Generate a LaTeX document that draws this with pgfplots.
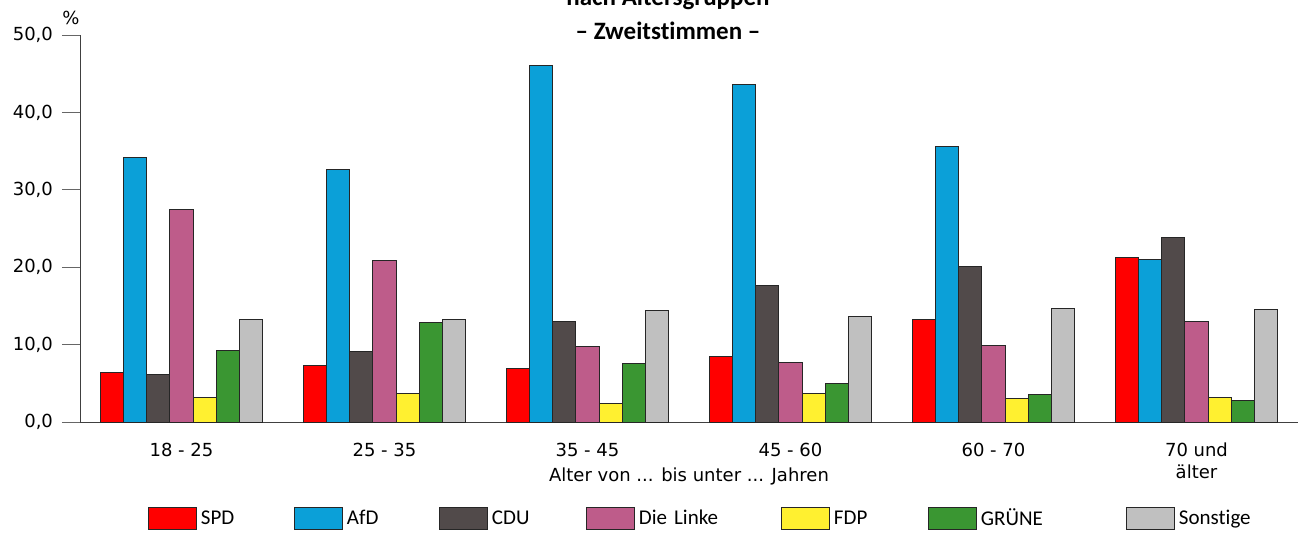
\documentclass[border=0pt]{standalone}
\usepackage{fontspec}
\setmainfont{DejaVu Sans}
\newfontfamily\calfont[Ligatures=NoCommon]{Carlito}
\usepackage{pgfplots}
\usepackage{pgfplotstable}
\pgfplotsset{compat=1.18}
\definecolor{cspd}{HTML}{FF0000}
\definecolor{cafd}{HTML}{0BA0D8}
\definecolor{ccdu}{HTML}{514A4A}
\definecolor{clinke}{HTML}{BE5C8A}
\definecolor{cfdp}{HTML}{FFF030}
\definecolor{cgruene}{HTML}{3A9632}
\definecolor{csonst}{HTML}{C0C0C0}
\newcommand{\ticklab}{\fontsize{9}{11}\selectfont}
\newcommand{\leglab}{\calfont\fontsize{10.5}{12}\selectfont}
\newcommand{\titlab}{\calfont\bfseries\fontsize{12.5}{14}\selectfont}

\pgfplotstableread{
x spd afd cdu linke fdp gruene sonst
0 6.4 34.2 6.1 27.4 3.2 9.2 13.3
1 7.3 32.6 9.1 20.9 3.7 12.9 13.2
2 6.9 46.0 13.0 9.7 2.4 7.5 14.4
3 8.5 43.6 17.7 7.7 3.7 5.0 13.6
4 13.2 35.6 20.1 9.9 3.0 3.5 14.7
5 21.3 21.0 23.9 13.0 3.2 2.8 14.5
}\datatable

\pgfplotsset{
  bx/.style={fill=#1, draw=black!85, line width=0.5pt,
    legend image code/.code={\draw[fill=#1, draw=black!85, line width=0.5pt] (0pt,-5.5pt) rectangle (24pt,5.5pt);}},
}

\begin{document}
\begin{tikzpicture}
\begin{axis}[
  at={(0,0)}, anchor=south west,
  scale only axis, width=609pt, height=193.5pt,
  ybar=0pt, bar width=11.6pt,
  xmin=-0.5, xmax=5.5, ymin=0, ymax=50,
  enlarge x limits=false,
  axis x line*=bottom, axis y line*=left,
  axis line style={black!75, line width=0.5pt},
  tick align=outside,
  ytick={0,10,...,50},
  major tick length=9pt, minor tick length=8pt,
  ytick style={black!60, line width=0.5pt},
  xtick={0,...,5},
  xtick style={draw=none},
  minor xtick={-0.5,0.5,...,5.5},
  minor x tick style={black, line width=0.5pt},
  xticklabels={18 - 25, 25 - 35, 35 - 45, 45 - 60, 60 - 70, {70 und\\älter}},
  xticklabel style={font=\ticklab, align=center, anchor=north, yshift=2pt},
  yticklabel style={font=\ticklab, xshift=-1pt},
  /pgf/number format/.cd, fixed, fixed zerofill, precision=1, use comma, assume math mode=true,
  /pgfplots/.cd,
  xlabel={Alter von ... bis unter ... Jahren},
  xlabel style={font=\ticklab, at={(axis description cs:0.5,0)}, anchor=base, yshift=-29.5pt},
  legend columns=7,
  legend style={at={(0.0558,-0.2506)}, anchor=west, draw=none, inner sep=0pt, outer sep=0pt,
    font=\leglab, /tikz/every odd column/.append style={column sep=2pt},
    nodes={inner xsep=0pt, align=left}},
  legend cell align=left,
]
\addplot[bx=cspd] table[x=x, y=spd] {\datatable};
\addlegendentry[text width=46.5pt]{SPD}
\addplot[bx=cafd] table[x=x, y=afd] {\datatable};
\addlegendentry[text width=46pt]{AfD}
\addplot[bx=ccdu] table[x=x, y=cdu] {\datatable};
\addlegendentry[text width=47pt]{CDU}
\addplot[bx=clinke] table[x=x, y=linke] {\datatable};
\addlegendentry[text width=71pt]{Die Linke}
\addplot[bx=cfdp] table[x=x, y=fdp] {\datatable};
\addlegendentry[text width=47pt]{FDP}
\addplot[bx=cgruene] table[x=x, y=gruene] {\datatable};
\addlegendentry[text width=72.5pt]{GRÜNE}
\addplot[bx=csonst] table[x=x, y=sonst] {\datatable};
\addlegendentry[text width=34pt]{Sonstige}
\end{axis}
\node[font=\ticklab, anchor=base] at (-4.5pt,199pt) {\%};
\node[font=\titlab, anchor=base] at (294pt,191.5pt) {– Zweitstimmen –};
\node[font=\titlab, anchor=base] at (294pt,208.5pt) {nach Altersgruppen};
\pgfresetboundingbox
\path[use as bounding box] (-40pt,-55pt) rectangle (609pt,211pt);
\end{tikzpicture}
\end{document}
